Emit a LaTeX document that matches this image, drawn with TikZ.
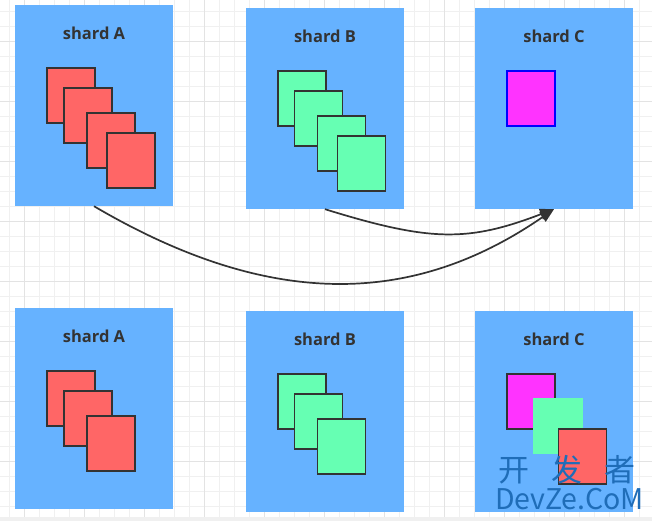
\documentclass[tikz,border=0pt]{standalone}
\usepackage{fontspec}
\setsansfont{Open Sans}
\newfontfamily\cjkfont{Noto Sans CJK SC}
\usetikzlibrary{arrows.meta}
\definecolor{shardblue}{HTML}{66B2FF}
\definecolor{docred}{HTML}{FF6666}
\definecolor{docgreen}{HTML}{66FFB3}
\definecolor{docpink}{HTML}{FF33FF}
\definecolor{edgegray}{HTML}{333333}
\definecolor{gridminor}{HTML}{F0F0F0}
\definecolor{gridmajor}{HTML}{E3E3E3}
\definecolor{markblue}{HTML}{1F6DB8}

\begin{document}
\begin{tikzpicture}[
    x=1pt, y=-1pt,
    shard/.style={fill=shardblue, draw=none, minimum width=158pt,
        minimum height=201pt, inner sep=0pt},
    tag/.style={font=\sffamily\bfseries\fontsize{16.5}{19}\selectfont,
        text=edgegray, inner sep=0pt},
    doc/.style={draw=edgegray, line width=1.8pt, minimum width=48pt,
        minimum height=55pt, inner sep=0pt},
    reddoc/.style={doc, fill=docred},
    greendoc/.style={doc, fill=docgreen},
    pinkdoc/.style={doc, fill=docpink},
    arrow/.style={-{Triangle[length=14pt,width=11pt]}, line width=1.7pt,
        draw=edgegray}
]
\useasboundingbox (0,0) rectangle (652,521);
\fill[white] (0,0) rectangle (652,521);
% background grid
\foreach \gx in {9.7,24.7,...,652} \draw[gridminor, line width=0.8pt] (\gx,0) -- (\gx,517);
\foreach \gy in {11.7,26.7,...,517} \draw[gridminor, line width=0.8pt] (0,\gy) -- (652,\gy);
\foreach \gx in {24.7,84.7,...,652} \draw[gridmajor, line width=0.8pt] (\gx,0) -- (\gx,517);
\foreach \gy in {41.7,101.7,...,517} \draw[gridmajor, line width=0.8pt] (0,\gy) -- (652,\gy);
\fill[gridminor] (0,517) rectangle (652,521);

% before: top row
\node[shard] (shardA) at (94,105.5) {};
\node[shard] (shardB) at (325,108.5) {};
\node[shard] (shardC) at (554,108.5) {};
\node[tag] (tagA) at (94,33) {shard A};
\node[tag] (tagB) at (325,36) {shard B};
\node[tag] (tagC) at (554,36) {shard C};
\node[reddoc] (a1) at (71,95.5) {};
\node[reddoc] (a2) at (88,115.5) {};
\node[reddoc] (a3) at (111,140.5) {};
\node[reddoc] (a4) at (131,160.5) {};
\node[greendoc] (b1) at (302,98.5) {};
\node[greendoc] (b2) at (318.5,118.5) {};
\node[greendoc] (b3) at (341.5,143.5) {};
\node[greendoc] (b4) at (361.5,163.5) {};
\node[pinkdoc, draw=blue] (c1) at (531,98.5) {};

% after: bottom row
\node[shard] (shardA2) at (94,408.5) {};
\node[shard] (shardB2) at (325,411.5) {};
\node[shard] (shardC2) at (554,411.5) {};
\node[tag] (tagA2) at (94,336) {shard A};
\node[tag] (tagB2) at (325,339) {shard B};
\node[tag] (tagC2) at (554,339) {shard C};
\node[reddoc] (a5) at (71,398.5) {};
\node[reddoc] (a6) at (88,418.5) {};
\node[reddoc] (a7) at (111,443.5) {};
\node[greendoc] (b5) at (302,401.5) {};
\node[greendoc] (b6) at (318.5,421.5) {};
\node[greendoc] (b7) at (341.5,446.5) {};
\node[pinkdoc] (c2) at (531,401.5) {};
\node[greendoc, draw=none, minimum width=50pt, minimum height=56pt] (c3) at (558,426) {};
\node[reddoc] (c4) at (582.5,456.5) {};

% moves
\draw[arrow] (shardA.south) .. controls (264,306) and (408,310) .. (shardC.south);
\draw[arrow] (shardB.south) .. controls (431,242) and (468,242) .. (shardC.south);

% watermark
\node[font=\cjkfont\fontsize{31}{33}\selectfont, text=markblue, inner sep=0pt] (markcn) at (567,470) {开\hspace{0.7em}发\hspace{0.7em}者};
\node[font=\cjkfont\fontsize{28.5}{30}\selectfont, text=markblue, inner sep=0pt] (markla) at (569.5,499) {DevZe.CoM};
\end{tikzpicture}
\end{document}
